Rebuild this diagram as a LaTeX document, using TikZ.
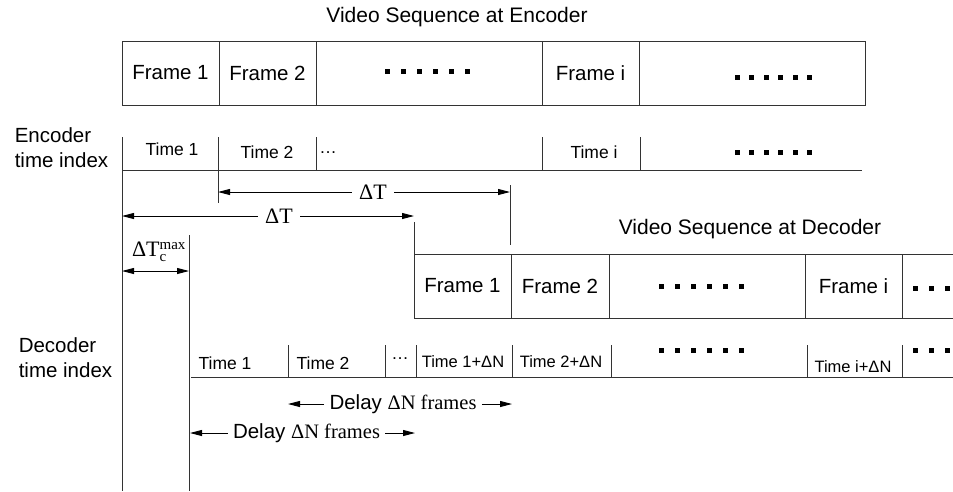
\documentclass[tikz,border=0pt]{standalone}
\usepackage{fontspec}
\setmainfont{Liberation Sans}
\newfontfamily\tmsfont{Liberation Serif}
\usetikzlibrary{positioning,arrows.meta}

\begin{document}
\begin{tikzpicture}[x=1pt,y=-1pt,line width=0.9pt,
    cell/.style={draw=black!80,minimum height=64pt,inner sep=0pt,outer sep=0pt,font=\fontsize{20.5}{25}\selectfont},
    lbl/.style={font=\fontsize{20.5}{25}\selectfont,inner ysep=0pt,inner xsep=5pt},
    ttl/.style={font=\fontsize{21}{25}\selectfont},
    tlbl/.style={font=\fontsize{17.5}{20}\selectfont,inner sep=1pt},
    nlbl/.style={font=\fontsize{16.5}{20}\selectfont,inner sep=1pt},
    dlbl/.style={font=\tmsfont\fontsize{22}{24}\selectfont,inner ysep=0pt,inner xsep=7pt},
    rule/.style={draw=black!80},
    dimarrow/.style={-{Triangle[length=12pt,width=6pt]}},
    pics/dotrow/.style={code={\foreach \k in {0,...,5} \fill ({\k*#1-2.5},-2.5) rectangle ++(5,5);}}]
    \clip (0,0) rectangle (953,491);

    \node[ttl] (enctitle) at (457,17) {Video Sequence at Encoder};
    \node[cell,minimum width=97pt] (ef1) at (170.5,73) {Frame 1};
    \node[cell,minimum width=97pt,right=0pt of ef1] (ef2) {Frame 2};
    \node[cell,minimum width=226pt,right=0pt of ef2] (ef3) {};
    \node[cell,minimum width=97pt,right=0pt of ef3] (efi) {Frame i};
    \node[cell,minimum width=226pt,right=0pt of efi] (ef5) {};
    \pic at (387.5,71.5) {dotrow=16};
    \pic at (737.5,77) {dotrow=14.4};

    \node[lbl,align=left] (encidx) at (61.5,147.5) {Encoder\\time index};
    \coordinate (etop) at (122,137);
    \coordinate (ebot) at (122,491);
    \draw[rule] (etop) -- (ebot);
    \draw[rule] (122,170) -- (862,170);
    \draw[rule] (218,137) -- (218,203);
    \foreach \x in {316,542,640} \draw[rule] (\x,137) -- (\x,170);
    \node[tlbl] (et1) at (172,149) {Time 1};
    \node[tlbl] (et2) at (267,152) {Time 2};
    \node[tlbl] (et3) at (328,153) {…};
    \node[tlbl] (eti) at (594,152) {Time i};
    \pic at (737.5,152) {dotrow=14.4};

    \coordinate (ta1) at (218,192);
    \coordinate (tb1) at (510,192);
    \node[dlbl] (dT1) at (373,192) {ΔT};
    \draw[dimarrow] (dT1) -- (ta1);
    \draw[dimarrow] (dT1) -- (tb1);
    \draw[rule] (510,185) -- (510,245);

    \coordinate (ta2) at (122,216);
    \coordinate (tb2) at (414,216);
    \node[dlbl] (dT2) at (279,216) {ΔT};
    \draw[dimarrow] (dT2) -- (ta2);
    \draw[dimarrow] (dT2) -- (tb2);

    \node[ttl] (dectitle) at (750,229) {Video Sequence at Decoder};
    \node[cell,minimum width=97pt] (df1) at (462.5,286) {Frame 1};
    \node[cell,minimum width=98pt,right=0pt of df1] (df2) {Frame 2};
    \node[cell,minimum width=196pt,right=0pt of df2] (df3) {};
    \node[cell,minimum width=97pt,right=0pt of df3] (dfi) {Frame i};
    \node[cell,minimum width=120pt,right=0pt of dfi] (df5) {};
    \pic at (661.5,286) {dotrow=16};
    \pic at (915.5,288) {dotrow=16};
    \draw[rule] (414,222) -- (df1.north west);

    \node[inner sep=0pt] (dTc) at (159,252) {\tmsfont\fontsize{22}{24}\selectfont ΔT$^{\hbox{\tmsfont\fontsize{15}{16}\selectfont max}}_{\hbox{\tmsfont\fontsize{15}{16}\selectfont c}}$};
    \coordinate (ca) at (122,271);
    \coordinate (cb) at (189,271);
    \draw[{Triangle[length=12pt,width=6pt]}-{Triangle[length=12pt,width=6pt]}] (ca) -- (cb);
    \coordinate (dtop) at (189,235);
    \coordinate (dbot) at (189,491);
    \draw[rule] (dtop) -- (dbot);

    \node[lbl,align=left] (decidx) at (65.5,357.5) {Decoder\\time index};
    \draw[rule] (191,377) -- (953,377);
    \foreach \x in {288,385,416,512,611,807,902} \draw[rule] (\x,345) -- (\x,377);
    \node[tlbl] (dt1) at (225,363) {Time 1};
    \node[tlbl] (dt2) at (323,363) {Time 2};
    \node[tlbl] (dt3) at (400,359) {…};
    \node[nlbl] (dt4) at (463,362) {Time 1+ΔN};
    \node[nlbl] (dt5) at (561,362) {Time 2+ΔN};
    \node[nlbl] (dti) at (853,367) {Time i+ΔN};
    \pic at (661.5,350) {dotrow=16};
    \pic at (915.5,350) {dotrow=16};

    \coordinate (da1) at (288,404);
    \coordinate (db1) at (512,404);
    \node[lbl] (dl1) at (403,404) {Delay {\tmsfont ΔN frames}};
    \draw[dimarrow] (dl1) -- (da1);
    \draw[dimarrow] (dl1) -- (db1);

    \coordinate (da2) at (190,433);
    \coordinate (db2) at (415,433);
    \node[lbl] (dl2) at (306.5,433) {Delay {\tmsfont ΔN frames}};
    \draw[dimarrow] (dl2) -- (da2);
    \draw[dimarrow] (dl2) -- (db2);
\end{tikzpicture}
\end{document}
